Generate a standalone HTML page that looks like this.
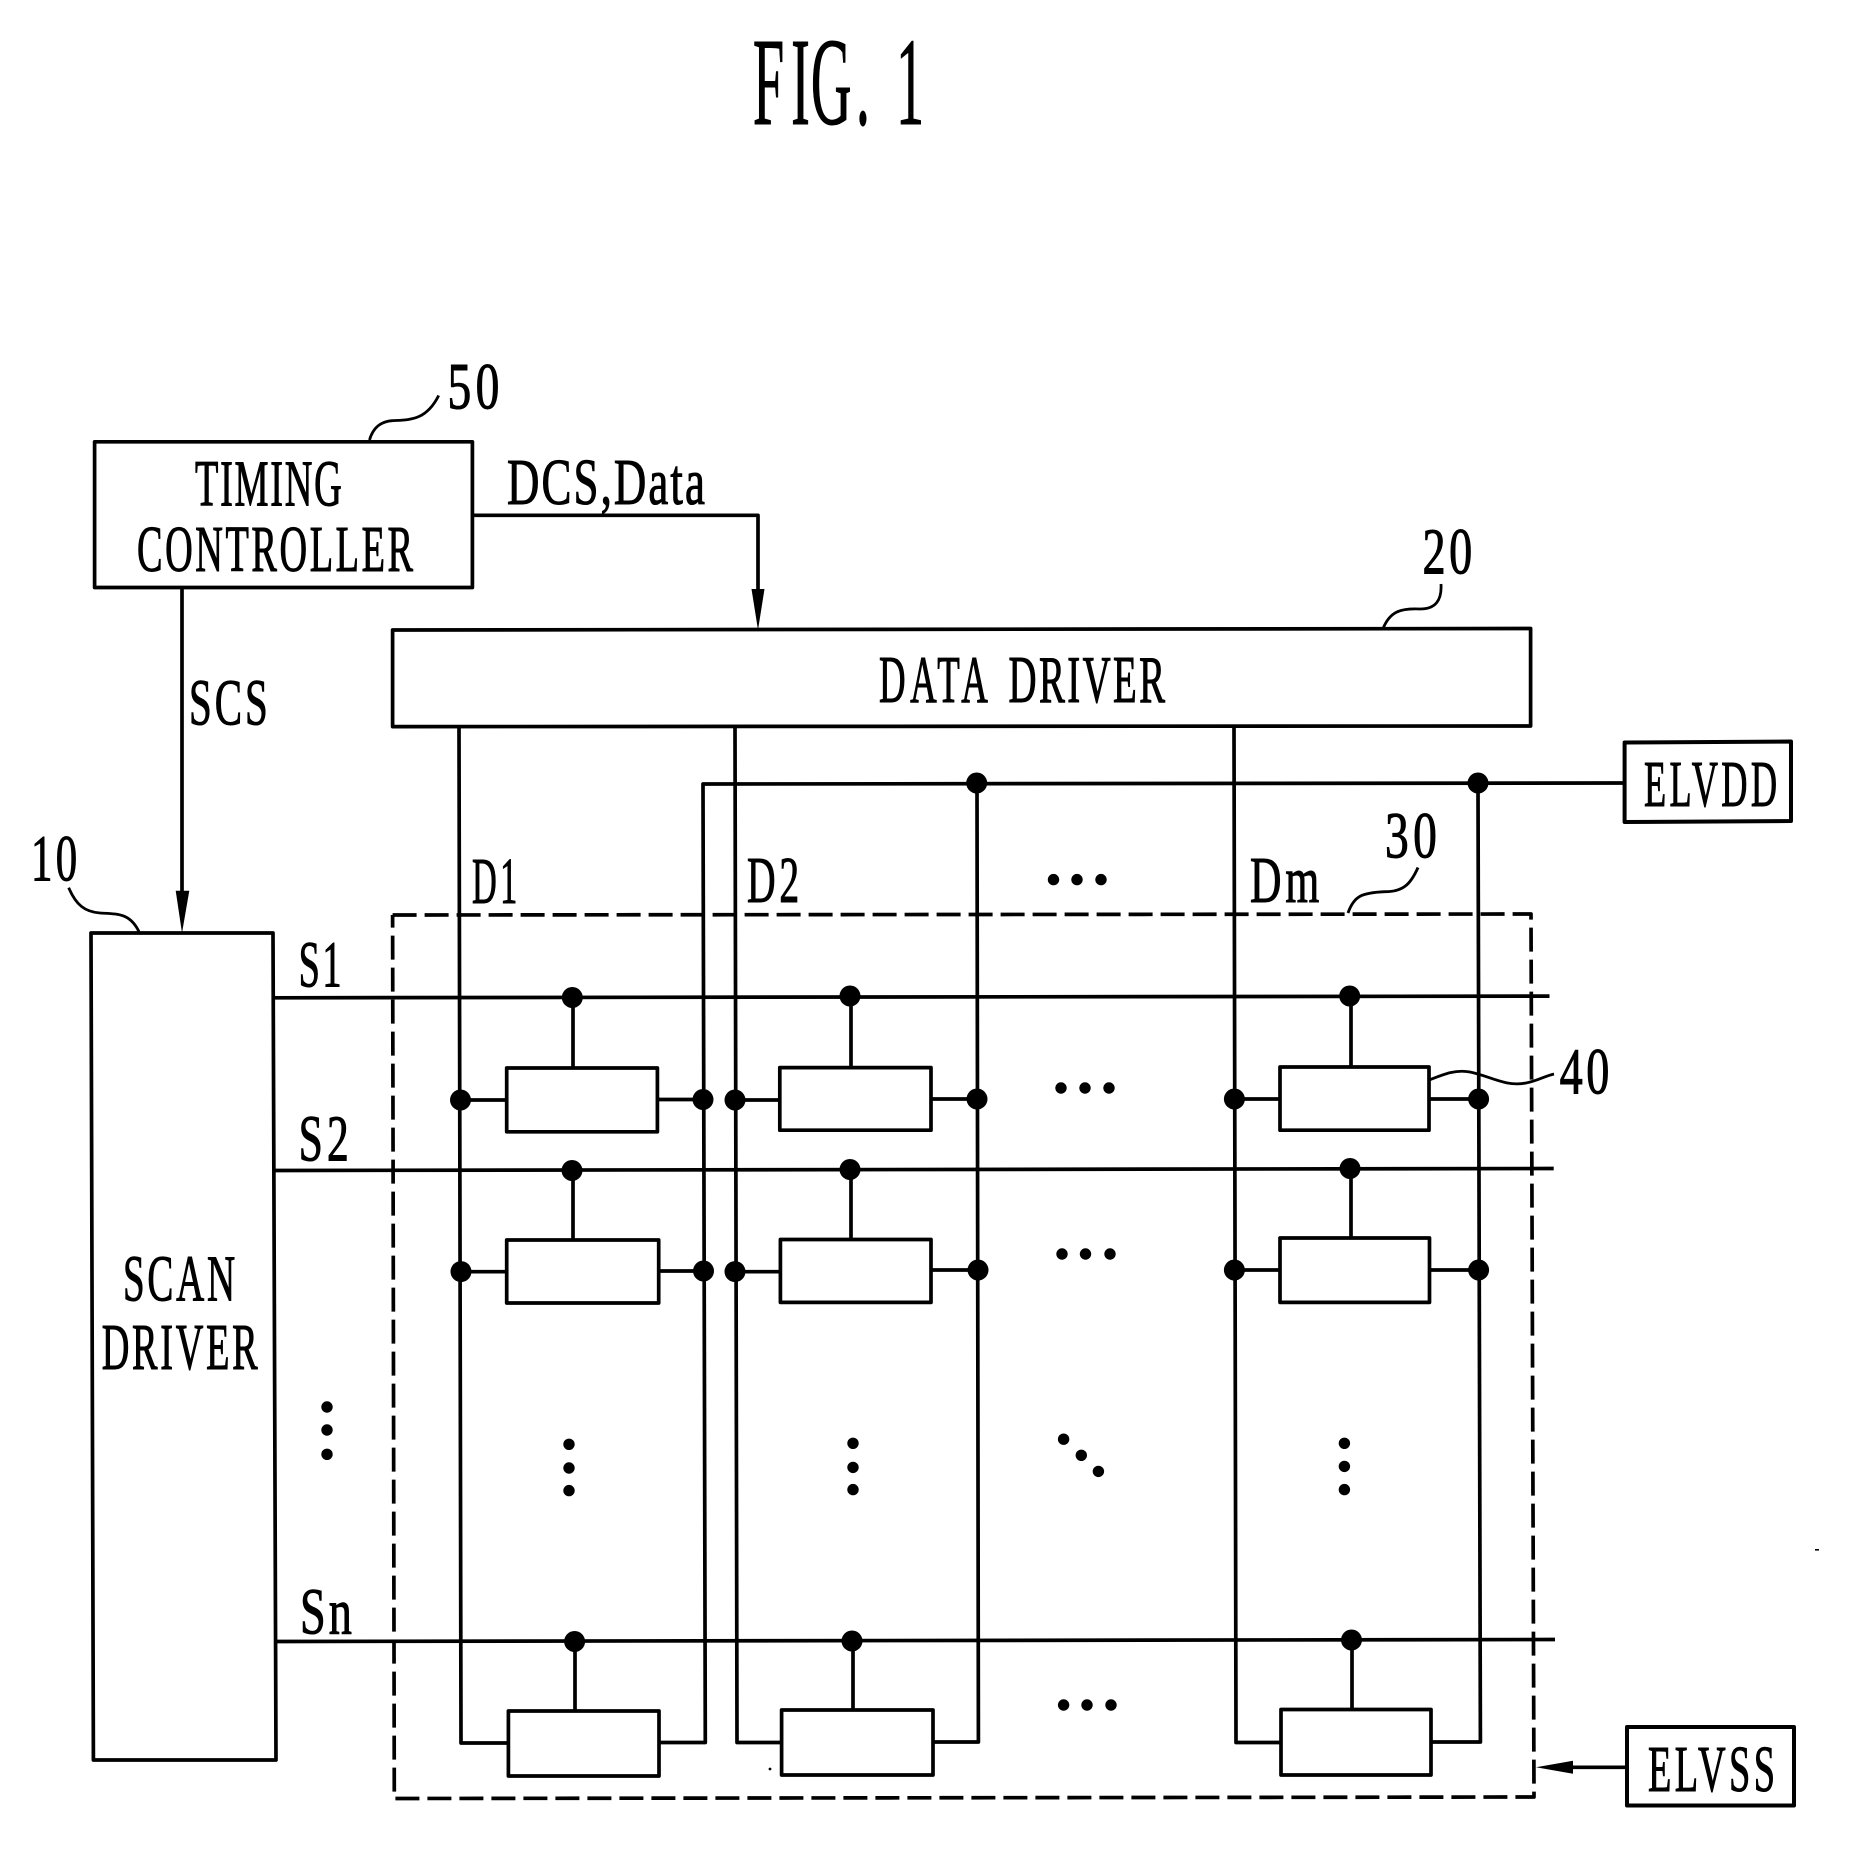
<!DOCTYPE html>
<html><head><meta charset="utf-8"><title>FIG. 1</title>
<style>html,body{margin:0;padding:0;background:#fff}svg{display:block}
text{font-family:"Liberation Serif",serif;fill:#000;stroke:#000;stroke-width:1.1}</style></head>
<body>
<svg width="1854" height="1866" viewBox="0 0 1854 1866" xmlns="http://www.w3.org/2000/svg">
<rect width="1854" height="1866" fill="#fff"/>
<g fill="none" stroke="#000" stroke-width="3.7" stroke-linejoin="round">
<!-- blocks -->
<polygon points="94.6,441.8 472.4,441.8 472.4,587.5 94.6,587.5"/>
<polygon points="392.6,630 1530.6,628.5 1530.6,726 392.6,726.6"/>
<polygon points="91,933 273,933 276,1760 93.4,1760"/>
<polygon points="1624.6,742.5 1791,741.5 1791,821 1624.6,822" stroke-width="4"/>
<polygon points="1627,1727 1794,1727 1794,1805.5 1627,1805.5" stroke-width="4"/>
<!-- dashed -->
<polyline points="392.6,915 1531,914 1534,1797 394.3,1798.5 392.6,915" stroke-dasharray="24 8"/>
<!-- connectors -->
<polyline points="473,515.3 758,515.3 758,592"/>
<line x1="182" y1="587" x2="182" y2="895"/>
<line x1="1627" y1="1767.3" x2="1570" y2="1767.3"/>
<!-- data lines -->
<polyline points="459,726 461,1743 508,1743"/>
<polyline points="735,726 737,1742.5 781.6,1742.5"/>
<polyline points="1234,726 1236,1742.5 1281,1742.5"/>
<!-- vdd -->
<polyline points="659,1742.5 705.3,1742.5 703,784 1624.6,783"/>
<polyline points="933,1742 978.4,1742 977,783"/>
<polyline points="1431,1742 1480.4,1742 1478,783"/>
<!-- scan lines -->
<line x1="274" y1="997.8" x2="1549.5" y2="996.1"/>
<line x1="275" y1="1170.5" x2="1553.7" y2="1168.5"/>
<line x1="276.7" y1="1641.5" x2="1555" y2="1639.5"/>
<!-- stems -->
<path d="M573 998V1068M851 996V1067M1351 996V1067M573 1170V1240M851 1169V1239M1351 1168V1238M575 1641V1710M853 1641V1710M1352 1640V1709"/>
<path d="M461 1100H507M658 1099.5H703M735 1100H780M931 1099H977M1234 1099H1280M1429 1099H1478M461 1271.7H507M659 1271H703.5M735 1271.7H780M931 1270H978M1234 1270H1280M1430 1270H1478"/>
<!-- cells -->
<g fill="#fff">
<rect x="506.7" y="1068" width="150.7" height="63.8"/>
<rect x="779.8" y="1067.6" width="151.2" height="62.6"/>
<rect x="1280" y="1067" width="149" height="63.2"/>
<rect x="506.7" y="1240" width="152" height="63"/>
<rect x="780.4" y="1239.5" width="150.6" height="62.9"/>
<rect x="1280" y="1238" width="149.5" height="64.4"/>
<rect x="508.4" y="1711" width="150.6" height="65"/>
<rect x="781.6" y="1710" width="151.4" height="65"/>
<rect x="1281" y="1709.5" width="150" height="65.5"/>
</g>
<!-- leaders -->
<g stroke-width="2.8">
<path d="M369.5 440C373 428 380 421.7 392 420.7C410 419.7 426 420.7 438.7 395.5"/>
<path d="M1441 584C1442 601 1435 609 1420 609C1400 608 1390 612 1383.4 627.7"/>
<path d="M1418 867.5C1410 885.7 1402 891.7 1385 891.7C1362 892.7 1354 895.7 1348 913"/>
<path d="M68.7 887.7C76 905 85 912 100 913C118 914 130 913 139 931.7"/>
<path d="M1428 1080.5C1442 1075 1455 1069 1470 1072C1490 1076 1505 1087 1526 1083C1537 1081 1545 1076 1554 1074"/>
</g>
</g>
<!-- arrowheads -->
<polygon points="751.5,589 764.5,589 758,630"/>
<polygon points="175.7,890.7 189.3,890.7 182,933"/>
<polygon points="1536,1767.3 1573,1760.8 1573,1773.8"/>
<!-- junction dots -->
<g fill="#000">
<circle cx="976.7" cy="783" r="10.5"/><circle cx="1478" cy="783" r="10.5"/>
<circle cx="572.3" cy="997.5" r="10.5"/><circle cx="850" cy="996" r="10.5"/><circle cx="1349.7" cy="996" r="10.5"/>
<circle cx="572" cy="1170.5" r="10.5"/><circle cx="850" cy="1169.5" r="10.5"/><circle cx="1350" cy="1168.5" r="10.5"/>
<circle cx="574.6" cy="1641.5" r="10.5"/><circle cx="852" cy="1641" r="10.5"/><circle cx="1351.5" cy="1640" r="10.5"/>
<circle cx="460.5" cy="1100" r="10.5"/><circle cx="703" cy="1099.5" r="10.5"/><circle cx="735" cy="1100" r="10.5"/>
<circle cx="977" cy="1099" r="10.5"/><circle cx="1234.4" cy="1099" r="10.5"/><circle cx="1478.6" cy="1099" r="10.5"/>
<circle cx="461" cy="1271.6" r="10.5"/><circle cx="703.5" cy="1271" r="10.5"/><circle cx="735" cy="1271.6" r="10.5"/>
<circle cx="978" cy="1270" r="10.5"/><circle cx="1234.4" cy="1270" r="10.5"/><circle cx="1478.6" cy="1270" r="10.5"/>
</g>
<!-- ellipsis dots -->
<g fill="#000">
<circle cx="1053.5" cy="879.6" r="5.7"/><circle cx="1077" cy="879.6" r="5.7"/><circle cx="1101" cy="879.6" r="5.7"/>
<circle cx="1061" cy="1088" r="5.7"/><circle cx="1085" cy="1088" r="5.7"/><circle cx="1109" cy="1088" r="5.7"/>
<circle cx="1062" cy="1254" r="5.7"/><circle cx="1085.5" cy="1254" r="5.7"/><circle cx="1110" cy="1254" r="5.7"/>
<circle cx="1063.6" cy="1705" r="5.7"/><circle cx="1087" cy="1705" r="5.7"/><circle cx="1111" cy="1705" r="5.7"/>
<circle cx="327" cy="1407" r="5.7"/><circle cx="327" cy="1430" r="5.7"/><circle cx="327" cy="1454.3" r="5.7"/>
<circle cx="569" cy="1444.3" r="5.7"/><circle cx="569" cy="1468" r="5.7"/><circle cx="569" cy="1490.6" r="5.7"/>
<circle cx="853" cy="1443.3" r="5.7"/><circle cx="853" cy="1467.4" r="5.7"/><circle cx="853" cy="1489.6" r="5.7"/>
<circle cx="1344.4" cy="1443.3" r="5.7"/><circle cx="1344.4" cy="1466.4" r="5.7"/><circle cx="1344.4" cy="1489.6" r="5.7"/>
<circle cx="1063.6" cy="1439.2" r="5.7"/><circle cx="1081.3" cy="1455.3" r="5.7"/><circle cx="1098.4" cy="1471.4" r="5.7"/>
<rect x="1815" y="1549" width="4" height="1.6"/><circle cx="770" cy="1769" r="1.4"/>
</g>
<!-- labels -->
<text transform="translate(0,124) scale(.45,1)" x="1673 1758 1802 1902" y="0" font-size="125">FIG.</text>
<text transform="translate(896,124) scale(.45,1)" font-size="125">1</text>
<text transform="translate(447.5,408.5) scale(.72,1)" font-size="66" textLength="72" lengthAdjust="spacing">50</text>
<text transform="translate(195,505.7) scale(.58,1)" font-size="66" textLength="253" lengthAdjust="spacing">TIMING</text>
<text transform="translate(137,571) scale(.58,1)" font-size="66" textLength="476" lengthAdjust="spacing">CONTROLLER</text>
<text transform="translate(507,504) scale(.68,1)" font-size="66" textLength="291" lengthAdjust="spacing">DCS,Data</text>
<text transform="translate(189,724.6) scale(.62,1)" font-size="66" textLength="127" lengthAdjust="spacing">SCS</text>
<text transform="translate(1422.5,573.6) scale(.7,1)" font-size="66" textLength="71" lengthAdjust="spacing">20</text>
<text transform="translate(879,702) scale(.55,1)" font-size="67" textLength="198" lengthAdjust="spacing">DATA</text>
<text transform="translate(1008.5,702) scale(.58,1)" font-size="67" textLength="270" lengthAdjust="spacing">DRIVER</text>
<text transform="translate(1644,806) scale(.55,1)" font-size="66" textLength="242" lengthAdjust="spacing">ELVDD</text>
<text transform="translate(1385,857.5) scale(.72,1)" font-size="66" textLength="72" lengthAdjust="spacing">30</text>
<text transform="translate(31,880.6) scale(.65,1)" font-size="66" textLength="71" lengthAdjust="spacing">10</text>
<text transform="translate(472,903) scale(.52,1)" font-size="66" textLength="87" lengthAdjust="spacing">D1</text>
<text transform="translate(747,901.8) scale(.6,1)" font-size="66" textLength="87" lengthAdjust="spacing">D2</text>
<text transform="translate(1250,901.8) scale(.66,1)" font-size="66" textLength="105" lengthAdjust="spacing">Dm</text>
<text transform="translate(298.6,986.3) scale(.58,1)" font-size="66" textLength="74" lengthAdjust="spacing">S1</text>
<text transform="translate(298.6,1160.5) scale(.66,1)" font-size="66" textLength="76" lengthAdjust="spacing">S2</text>
<text transform="translate(300,1633.5) scale(.7,1)" font-size="66" textLength="74" lengthAdjust="spacing">Sn</text>
<text transform="translate(123,1300.3) scale(.59,1)" font-size="66" textLength="190" lengthAdjust="spacing">SCAN</text>
<text transform="translate(101.7,1368.8) scale(.58,1)" font-size="66" textLength="269" lengthAdjust="spacing">DRIVER</text>
<text transform="translate(1559.6,1093.5) scale(.7,1)" font-size="66" textLength="71" lengthAdjust="spacing">40</text>
<text transform="translate(1648,1791) scale(.58,1)" font-size="66" textLength="219" lengthAdjust="spacing">ELVSS</text>
</svg>
</body></html>
